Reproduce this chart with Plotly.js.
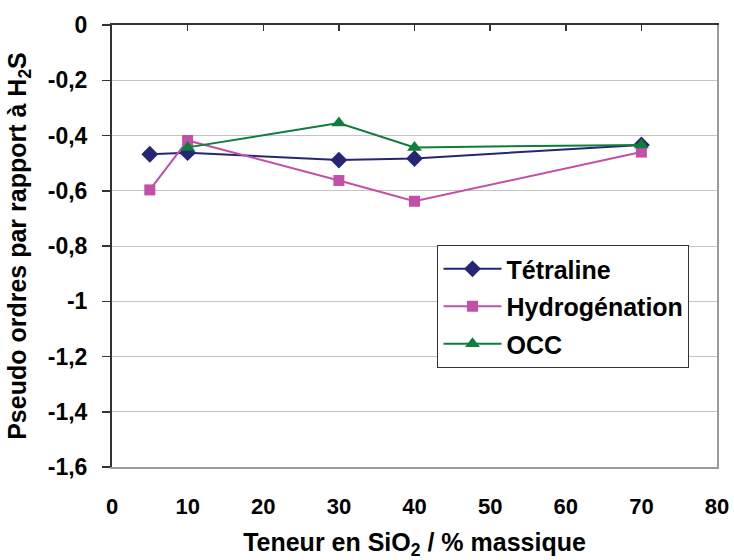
<!DOCTYPE html>
<html>
<head>
<meta charset="utf-8">
<script src="https://cdn.plot.ly/plotly-3.0.1.min.js"></script>
<style>html,body{margin:0;padding:0;background:#fff}#chart{width:734px;height:560px}</style>
</head>
<body>
<div id="chart"></div>
<script>
const silica = [5, 10, 30, 40, 70];
const tetraline = [-0.468, -0.462, -0.489, -0.483, -0.434];
const hydrogenation = [-0.597, -0.418, -0.563, -0.638, -0.460];
const occSilica = [10, 30, 40, 70];
const occ = [-0.443, -0.355, -0.443, -0.434];
const seriesNames = ['Tétraline', 'Hydrogénation', 'OCC'];
const xTicks = [0, 10, 20, 30, 40, 50, 60, 70, 80];
const yTicks = [0, -0.2, -0.4, -0.6, -0.8, -1, -1.2, -1.4, -1.6];
const yTickText = ['0', '-0,2', '-0,4', '-0,6', '-0,8', '-1', '-1,2', '-1,4', '-1,6'];

const bold = 'Liberation Sans, Arial, sans-serif';

const traces = [
  {x: silica, y: tetraline, name: seriesNames[0], mode: 'lines+markers', legendgroup: 'a',
   line: {color: '#262673', width: 2}, marker: {symbol: 'diamond', size: 13, color: '#262673'}},
  {x: silica, y: hydrogenation, name: seriesNames[1], mode: 'lines+markers', legendgroup: 'b',
   line: {color: '#c34fa8', width: 2}, marker: {symbol: 'square', size: 11, color: '#c34fa8'}},
  {x: occSilica, y: occ, name: seriesNames[2], mode: 'lines+markers', legendgroup: 'c',
   line: {color: '#0f7d3c', width: 2}, marker: {symbol: 'triangle-up', size: 13, color: '#0f7d3c'}},
  {x: [], y: [], xaxis: 'x2', yaxis: 'y2', showlegend: false, hoverinfo: 'skip'}
];

const layout = {
  width: 734, height: 560,
  margin: {l: 112, r: 17, t: 25, b: 93},
  paper_bgcolor: '#ffffff', plot_bgcolor: '#ffffff',
  showlegend: true,
  legend: {
    x: 0.538, y: 0.502, xanchor: 'left', yanchor: 'top',
    bgcolor: '#ffffff', bordercolor: '#333333', borderwidth: 1,
    font: {family: bold, size: 25, color: '#000', weight: 'bold'},
    tracegroupgap: 2, itemwidth: 58
  },
  xaxis: {
    range: [0, 80], tickvals: xTicks, ticktext: xTicks.map(String),
    showgrid: false, zeroline: false,
    showline: true, linecolor: '#9a9a9a', linewidth: 2,
    ticks: '', ticklabelstandoff: 19,
    tickfont: {family: bold, size: 22, color: '#000', weight: 'bold'},
    title: {text: 'Teneur en SiO<sub>2</sub> / % massique', standoff: 34,
            font: {family: bold, size: 25, color: '#000', weight: 'bold'}},
    fixedrange: true
  },
  xaxis2: {
    overlaying: 'x', side: 'top', matches: 'x', range: [0, 80],
    tickvals: xTicks, showticklabels: false, ticks: 'inside', ticklen: 6,
    tickcolor: '#333', tickwidth: 1.5,
    showline: true, linecolor: '#333333', linewidth: 2, showgrid: false, zeroline: false
  },
  yaxis: {
    range: [-1.6, 0], tickvals: yTicks, ticktext: yTickText,
    showgrid: true, gridcolor: '#c4c4c4', gridwidth: 1, zeroline: false,
    showline: true, linecolor: '#333333', linewidth: 2,
    ticks: 'outside', ticklen: 8, tickcolor: '#333', tickwidth: 1.5,
    ticklabelstandoff: 10,
    tickfont: {family: bold, size: 23, color: '#000', weight: 'bold'},
    title: {text: 'Pseudo ordres par rapport à H<sub>2</sub>S', standoff: 14,
            font: {family: bold, size: 25, color: '#000', weight: 'bold'}},
    fixedrange: true
  },
  yaxis2: {
    overlaying: 'y', side: 'right', range: [-1.6, 0], showticklabels: false,
    ticks: '', showline: true, linecolor: '#9a9a9a', linewidth: 2,
    showgrid: false, zeroline: false
  }
};

Plotly.newPlot('chart', traces, layout, {staticPlot: true, displayModeBar: false});
</script>
</body>
</html>
